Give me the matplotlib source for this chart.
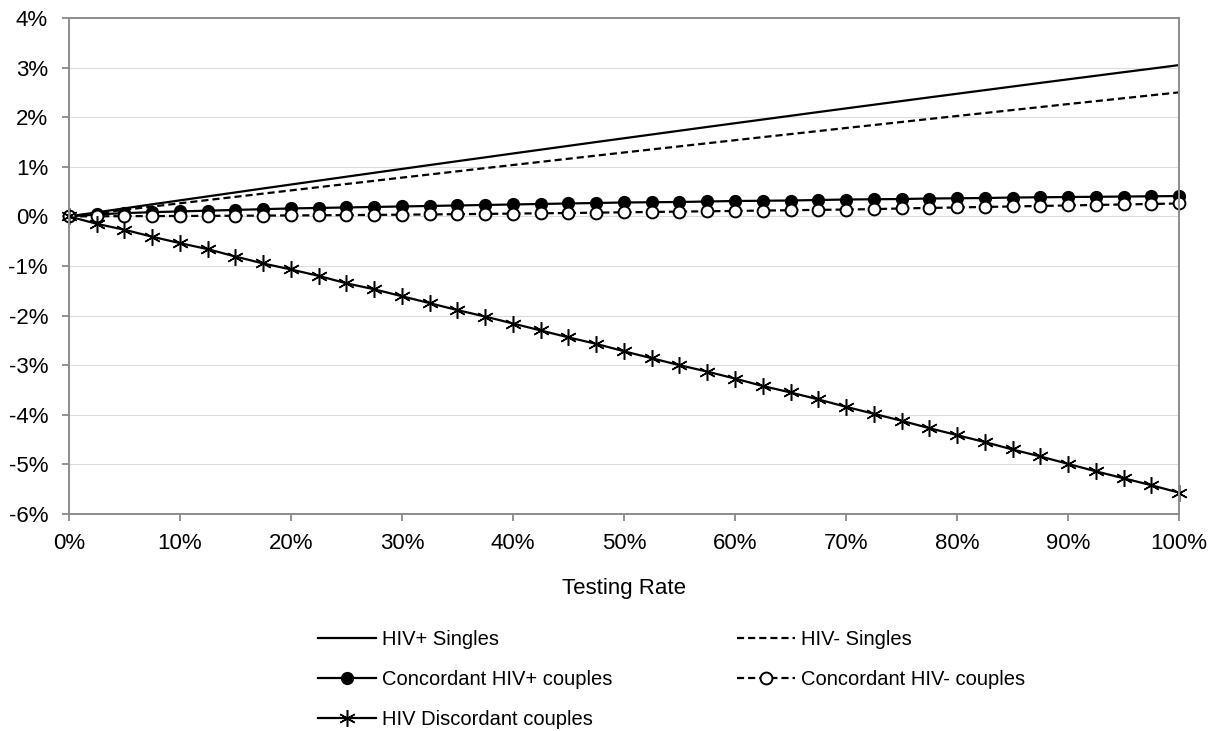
import matplotlib.pyplot as plt
from matplotlib.ticker import FuncFormatter, MultipleLocator

plt.rcParams['font.family'] = ['Liberation Sans', 'DejaVu Sans']
plt.rcParams['font.size'] = 16

# testing rate (%)
testing_rate = [0, 2.5, 5, 7.5, 10, 12.5, 15, 17.5, 20, 22.5, 25, 27.5, 30, 32.5, 35, 37.5,
                40, 42.5, 45, 47.5, 50, 52.5, 55, 57.5, 60, 62.5, 65, 67.5, 70, 72.5, 75, 77.5,
                80, 82.5, 85, 87.5, 90, 92.5, 95, 97.5, 100]

# change in incidence (%)
hiv_pos_singles = [0, 0.081, 0.162, 0.243, 0.323, 0.403, 0.483, 0.563, 0.642, 0.721, 0.800,
                   0.879, 0.957, 1.035, 1.113, 1.190, 1.268, 1.345, 1.422, 1.499, 1.575, 1.651,
                   1.727, 1.803, 1.878, 1.953, 2.028, 2.103, 2.177, 2.251, 2.325, 2.399, 2.472,
                   2.545, 2.618, 2.691, 2.763, 2.835, 2.907, 2.978, 3.05]
hiv_neg_singles = [0, 0.066, 0.132, 0.198, 0.264, 0.329, 0.394, 0.459, 0.524, 0.589, 0.653,
                   0.717, 0.782, 0.845, 0.909, 0.973, 1.036, 1.099, 1.162, 1.225, 1.288, 1.350,
                   1.412, 1.474, 1.536, 1.598, 1.659, 1.720, 1.782, 1.842, 1.903, 1.964, 2.024,
                   2.084, 2.144, 2.204, 2.264, 2.323, 2.382, 2.441, 2.50]
conc_pos_couples = [0, 0.04, 0.065, 0.085, 0.10, 0.115, 0.13, 0.145, 0.16, 0.17, 0.18, 0.19,
                    0.20, 0.21, 0.22, 0.23, 0.24, 0.25, 0.26, 0.27, 0.28, 0.285, 0.29, 0.30,
                    0.31, 0.315, 0.32, 0.33, 0.34, 0.345, 0.35, 0.36, 0.365, 0.37, 0.38, 0.385,
                    0.39, 0.395, 0.40, 0.405, 0.41]
conc_neg_couples = [0, 0.002, 0.004, 0.006, 0.008, 0.010, 0.013, 0.016, 0.019, 0.022, 0.026,
                    0.030, 0.034, 0.039, 0.044, 0.050, 0.056, 0.062, 0.068, 0.075, 0.082, 0.089,
                    0.096, 0.103, 0.110, 0.117, 0.124, 0.131, 0.138, 0.146, 0.16, 0.17, 0.18,
                    0.19, 0.20, 0.21, 0.22, 0.23, 0.24, 0.25, 0.26]
discordant_couples = [0, -0.15, -0.27, -0.41, -0.54, -0.66, -0.81, -0.95, -1.07, -1.20, -1.35,
                      -1.47, -1.61, -1.75, -1.89, -2.02, -2.16, -2.30, -2.44, -2.57, -2.72, -2.86,
                      -3.00, -3.13, -3.27, -3.42, -3.55, -3.69, -3.84, -3.98, -4.12, -4.27, -4.41,
                      -4.55, -4.70, -4.84, -4.99, -5.14, -5.28, -5.42, -5.57]

fig = plt.figure(figsize=(12.16, 7.31), dpi=100)
ax = fig.add_axes([0.0567, 0.2969, 0.9129, 0.6785])

dash = (0, (3.2, 1.8))
l1, = ax.plot(testing_rate, hiv_pos_singles, color='black', lw=1.6, label='HIV+ Singles')
l2, = ax.plot(testing_rate, hiv_neg_singles, color='black', lw=1.6, linestyle=dash,
              label='HIV- Singles')
l3, = ax.plot(testing_rate, conc_pos_couples, color='black', lw=1.6, marker='o', ms=8.5,
              mfc='black', mec='black', label='Concordant HIV+ couples', clip_on=False)
l4, = ax.plot(testing_rate, conc_neg_couples, color='black', lw=1.6, linestyle=dash,
              marker='o', ms=8.5, mfc='white', mec='black', mew=1.4,
              label='Concordant HIV- couples', clip_on=False)
l5, = ax.plot(testing_rate, discordant_couples, color='black', lw=1.6, marker=(6, 2, 0), ms=12,
              mew=1.1, label='HIV Discordant couples', clip_on=False)

ax.set_xlim(0, 100)
ax.set_ylim(-6, 4)
ax.xaxis.set_major_locator(MultipleLocator(10))
ax.yaxis.set_major_locator(MultipleLocator(1))
pct = FuncFormatter(lambda v, p: '%d%%' % round(v))
ax.xaxis.set_major_formatter(pct)
ax.yaxis.set_major_formatter(pct)
ax.tick_params(axis='both', colors='#808080', labelcolor='black', length=5, width=1.2,
               labelsize=16)
ax.tick_params(axis='y', pad=10)
ax.tick_params(axis='x', pad=9)
ax.grid(axis='y', color='#dcdcdc', lw=0.8)
ax.set_axisbelow(True)
for s in ax.spines.values():
    s.set_color('#8c8c8c')
    s.set_linewidth(1.4)

ax.set_xlabel('Testing Rate', fontsize=16, labelpad=17)

leg_kw = dict(frameon=False, loc='upper left', borderpad=0, borderaxespad=0, numpoints=1,
              handlelength=2.9, handletextpad=0.3, labelspacing=1.05, fontsize=14.5)
fig.legend(handles=[l1, l3, l5], bbox_to_anchor=(318 / 1216, 1 - 630 / 731), **leg_kw)
fig.legend(handles=[l2, l4], bbox_to_anchor=(737 / 1216, 1 - 630 / 731), **leg_kw)

fig.savefig('out.png', dpi=100)
plt.close(fig)
